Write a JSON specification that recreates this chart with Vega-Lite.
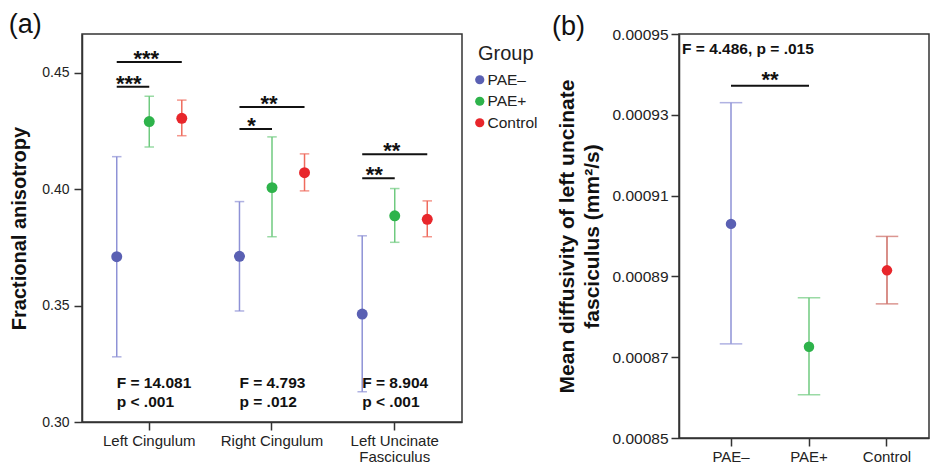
{
  "$schema": "https://vega.github.io/schema/vega-lite/v6.json",
  "background": "white",
  "padding": {"left": 8, "top": 10, "right": 0, "bottom": 0},
  "spacing": 2,
  "config": {
    "font": "Liberation Sans",
    "view": {"stroke": "#333", "strokeWidth": 1.5},
    "axis": {
      "grid": false, "domainColor": "#333", "domainWidth": 1.5, "tickColor": "#333", "tickWidth": 1.5,
      "tickSize": 8, "labelColor": "#222", "labelFont": "Liberation Sans", "titleFont": "Liberation Sans",
      "titleColor": "#111", "titleFontWeight": "bold"
    },
    "title": {"font": "Liberation Sans", "fontSize": 27, "fontWeight": "normal", "color": "#111", "anchor": "start", "frame": "bounds"}
  },
  "resolve": {"scale": {"color": "independent", "stroke": "independent"}, "legend": {"color": "independent"}},
  "datasets": {
    "fa": [
      {"region": "Left Cingulum", "group": "PAE–", "mean": 0.3710, "lo": 0.3280, "hi": 0.4140},
      {"region": "Left Cingulum", "group": "PAE+", "mean": 0.4291, "lo": 0.4182, "hi": 0.4400},
      {"region": "Left Cingulum", "group": "Control", "mean": 0.4305, "lo": 0.4230, "hi": 0.4383},
      {"region": "Right Cingulum", "group": "PAE–", "mean": 0.3712, "lo": 0.3477, "hi": 0.3947},
      {"region": "Right Cingulum", "group": "PAE+", "mean": 0.4007, "lo": 0.3796, "hi": 0.4225},
      {"region": "Right Cingulum", "group": "Control", "mean": 0.4071, "lo": 0.3993, "hi": 0.4152},
      {"region": "Left Uncinate Fasciculus", "group": "PAE–", "mean": 0.3464, "lo": 0.3130, "hi": 0.3800},
      {"region": "Left Uncinate Fasciculus", "group": "PAE+", "mean": 0.3886, "lo": 0.3772, "hi": 0.4003},
      {"region": "Left Uncinate Fasciculus", "group": "Control", "mean": 0.3871, "lo": 0.3796, "hi": 0.3950}
    ],
    "faSig": [
      {"region": "Left Cingulum", "bar": "LC1", "group": "PAE–", "level": 0.4440},
      {"region": "Left Cingulum", "bar": "LC1", "group": "PAE+", "level": 0.4440},
      {"region": "Left Cingulum", "bar": "LC2", "group": "PAE–", "level": 0.4547},
      {"region": "Left Cingulum", "bar": "LC2", "group": "Control", "level": 0.4547},
      {"region": "Right Cingulum", "bar": "RC1", "group": "PAE–", "level": 0.4259},
      {"region": "Right Cingulum", "bar": "RC1", "group": "PAE+", "level": 0.4259},
      {"region": "Right Cingulum", "bar": "RC2", "group": "PAE–", "level": 0.4353},
      {"region": "Right Cingulum", "bar": "RC2", "group": "Control", "level": 0.4353},
      {"region": "Left Uncinate Fasciculus", "bar": "LU1", "group": "PAE–", "level": 0.4047},
      {"region": "Left Uncinate Fasciculus", "bar": "LU1", "group": "PAE+", "level": 0.4047},
      {"region": "Left Uncinate Fasciculus", "bar": "LU2", "group": "PAE–", "level": 0.4150},
      {"region": "Left Uncinate Fasciculus", "bar": "LU2", "group": "Control", "level": 0.4150}
    ],
    "faStars": [
      {"region": "Left Cingulum", "group": "PAE–", "level": 0.4440, "stars": "***", "pos": "lower"},
      {"region": "Left Cingulum", "group": "PAE+", "level": 0.4547, "stars": "***", "pos": "upper"},
      {"region": "Right Cingulum", "group": "PAE–", "level": 0.4259, "stars": "*", "pos": "lower"},
      {"region": "Right Cingulum", "group": "PAE+", "level": 0.4353, "stars": "**", "pos": "upper"},
      {"region": "Left Uncinate Fasciculus", "group": "PAE–", "level": 0.4047, "stars": "**", "pos": "lower"},
      {"region": "Left Uncinate Fasciculus", "group": "PAE+", "level": 0.4150, "stars": "**", "pos": "upper"}
    ],
    "faStats": [
      {"region": "Left Cingulum", "group": "PAE–", "y": 0.3168, "text": ["F = 14.081", "p < .001"]},
      {"region": "Right Cingulum", "group": "PAE–", "y": 0.3168, "text": ["F = 4.793", "p = .012"]},
      {"region": "Left Uncinate Fasciculus", "group": "PAE–", "y": 0.3168, "text": ["F = 8.904", "p < .001"]}
    ],
    "md": [
      {"group": "PAE–", "mean": 0.0009030, "lo": 0.0008733, "hi": 0.0009330},
      {"group": "PAE+", "mean": 0.0008726, "lo": 0.0008607, "hi": 0.0008847},
      {"group": "Control", "mean": 0.0008915, "lo": 0.0008832, "hi": 0.0008999}
    ],
    "mdSig": [
      {"bar": "B1", "group": "PAE–", "level": 0.0009372},
      {"bar": "B1", "group": "PAE+", "level": 0.0009372}
    ],
    "mdStars": [
      {"group": "PAE–", "level": 0.0009372, "stars": "**"}
    ],
    "mdStats": [
      {"group": "PAE–", "y": 0.0009464, "text": "F = 4.486, p = .015"}
    ]
  },
  "hconcat": [
    {
      "title": {"text": "(a)", "offset": -5, "dx": -1},
      "width": 380,
      "height": 388,
      "encoding": {
        "x": {
          "field": "region", "type": "nominal",
          "sort": ["Left Cingulum", "Right Cingulum", "Left Uncinate Fasciculus"],
          "scale": {"type": "band", "paddingInner": 0.47, "paddingOuter": 0.283},
          "axis": {
            "title": null, "labelAngle": 0, "labelFontSize": 15, "labelPadding": 3, "labelLineHeight": 16,
            "labelExpr": "datum.label == 'Left Uncinate Fasciculus' ? ['Left Uncinate', 'Fasciculus'] : datum.label"
          }
        },
        "xOffset": {
          "field": "group", "type": "nominal", "sort": ["PAE–", "PAE+", "Control"],
          "scale": {"type": "point", "padding": 0}
        }
      },
      "layer": [
        {
          "data": {"name": "fa"},
          "mark": {"type": "point", "filled": true, "size": 0, "opacity": 0},
          "encoding": {
            "y": {
              "field": "mean", "type": "quantitative",
              "scale": {"domain": [0.3, 0.4667], "nice": false, "zero": false},
              "axis": {
                "title": "Fractional anisotropy", "values": [0.3, 0.35, 0.4, 0.45], "format": ".2f",
                "titleFontSize": 20, "labelFontSize": 14, "labelPadding": 5, "titlePadding": 12
              }
            },
            "color": {
              "field": "group", "type": "nominal",
              "scale": {"domain": ["PAE–", "PAE+", "Control"], "range": ["#5a60b3", "#2eb34b", "#e8262b"]},
              "legend": {
                "title": "Group", "titleFontSize": 20, "titleFontWeight": "normal", "titleColor": "#222",
                "labelFontSize": 15.5, "labelColor": "#222", "symbolType": "circle", "symbolSize": 85,
                "symbolOpacity": 1, "symbolOffset": -6, "labelOffset": 0, "rowPadding": 4.5, "titlePadding": 8,
                "offset": 6, "padding": 10
              }
            }
          }
        },
        {
          "data": {"name": "fa"},
          "mark": {"type": "rule", "strokeWidth": 1.5},
          "encoding": {
            "y": {"field": "lo", "type": "quantitative"},
            "y2": {"field": "hi"},
            "stroke": {
              "field": "group", "type": "nominal", "sort": ["PAE–", "PAE+", "Control"],
              "scale": {"range": ["#8e92d6", "#6fca7f", "#ef6b5d"]},
              "legend": null
            }
          }
        },
        {
          "data": {"name": "fa"},
          "mark": {"type": "tick", "size": 8, "thickness": 0.01, "filled": false, "strokeWidth": 1.5},
          "encoding": {
            "y": {"field": "lo", "type": "quantitative"},
            "stroke": {"field": "group", "type": "nominal", "sort": ["PAE–", "PAE+", "Control"], "legend": null}
          }
        },
        {
          "data": {"name": "fa"},
          "mark": {"type": "tick", "size": 8, "thickness": 0.01, "filled": false, "strokeWidth": 1.5},
          "encoding": {
            "y": {"field": "hi", "type": "quantitative"},
            "stroke": {"field": "group", "type": "nominal", "sort": ["PAE–", "PAE+", "Control"], "legend": null}
          }
        },
        {
          "data": {"name": "fa"},
          "mark": {"type": "point", "filled": true, "size": 120, "opacity": 1, "shape": "circle"},
          "encoding": {
            "y": {"field": "mean", "type": "quantitative"},
            "color": {"field": "group", "type": "nominal"}
          }
        },
        {
          "data": {"name": "faSig"},
          "mark": {"type": "line", "color": "#111", "strokeWidth": 2},
          "encoding": {
            "y": {"field": "level", "type": "quantitative"},
            "detail": {"field": "bar", "type": "nominal"}
          }
        },
        {
          "data": {"name": "faStars"},
          "transform": [{"filter": "datum.pos == 'lower'"}],
          "mark": {"type": "text", "fontSize": 22, "fontWeight": "bold", "align": "center", "baseline": "alphabetic", "dx": 12, "dy": 4, "color": "#111"},
          "encoding": {
            "y": {"field": "level", "type": "quantitative"},
            "text": {"field": "stars"}
          }
        },
        {
          "data": {"name": "faStars"},
          "transform": [{"filter": "datum.pos == 'upper'"}],
          "mark": {"type": "text", "fontSize": 22, "fontWeight": "bold", "align": "center", "baseline": "alphabetic", "dx": -3, "dy": 4, "color": "#111"},
          "encoding": {
            "y": {"field": "level", "type": "quantitative"},
            "text": {"field": "stars"}
          }
        },
        {
          "data": {"name": "faStats"},
          "mark": {"type": "text", "fontSize": 15.5, "fontWeight": "bold", "align": "left", "baseline": "middle", "lineHeight": 19, "color": "#111"},
          "encoding": {
            "y": {"field": "y", "type": "quantitative"},
            "text": {"field": "text"}
          }
        }
      ]
    },
    {
      "title": {"text": "(b)", "offset": -14, "dx": -5},
      "width": 250,
      "height": 404,
      "encoding": {
        "x": {
          "field": "group", "type": "nominal", "sort": ["PAE–", "PAE+", "Control"],
          "scale": {"type": "band", "paddingInner": 0, "paddingOuter": 0.1026, "align": 0.8125},
          "axis": {"title": null, "labelAngle": 0, "labelFontSize": 15, "labelPadding": 3}
        }
      },
      "layer": [
        {
          "data": {"name": "md"},
          "mark": {"type": "rule", "strokeWidth": 1.5},
          "encoding": {
            "y": {
              "field": "lo", "type": "quantitative",
              "scale": {"domain": [0.00085, 0.00095], "nice": false, "zero": false},
              "axis": {
                "title": ["Mean diffusivity of left uncinate", "fasciculus (mm²/s)"],
                "values": [0.00085, 0.00087, 0.00089, 0.00091, 0.00093, 0.00095], "format": ".5f",
                "titleFontSize": 21, "titleLineHeight": 25, "labelFontSize": 15.5, "labelPadding": 3, "titlePadding": 9
              }
            },
            "y2": {"field": "hi"},
            "stroke": {
              "field": "group", "type": "nominal",
              "scale": {"domain": ["PAE–", "PAE+", "Control"], "range": ["#8e92d6", "#6fca7f", "#cc6a62"]},
              "legend": null
            }
          }
        },
        {
          "data": {"name": "md"},
          "mark": {"type": "tick", "size": 21, "thickness": 0.01, "filled": false, "strokeWidth": 1.5},
          "encoding": {
            "y": {"field": "lo", "type": "quantitative"},
            "stroke": {"field": "group", "type": "nominal", "legend": null}
          }
        },
        {
          "data": {"name": "md"},
          "mark": {"type": "tick", "size": 21, "thickness": 0.01, "filled": false, "strokeWidth": 1.5},
          "encoding": {
            "y": {"field": "hi", "type": "quantitative"},
            "stroke": {"field": "group", "type": "nominal", "legend": null}
          }
        },
        {
          "data": {"name": "md"},
          "mark": {"type": "point", "filled": true, "size": 110, "opacity": 1, "shape": "circle"},
          "encoding": {
            "y": {"field": "mean", "type": "quantitative"},
            "color": {
              "field": "group", "type": "nominal",
              "scale": {"domain": ["PAE–", "PAE+", "Control"], "range": ["#5a60b3", "#2eb34b", "#e8262b"]},
              "legend": null
            }
          }
        },
        {
          "data": {"name": "mdSig"},
          "mark": {"type": "line", "color": "#111", "strokeWidth": 2},
          "encoding": {
            "y": {"field": "level", "type": "quantitative"},
            "detail": {"field": "bar", "type": "nominal"}
          }
        },
        {
          "data": {"name": "mdStars"},
          "mark": {"type": "text", "fontSize": 22, "fontWeight": "bold", "align": "center", "baseline": "alphabetic", "dy": 1.5, "color": "#111"},
          "encoding": {
            "x": {"field": "group", "type": "nominal", "bandPosition": 1},
            "y": {"field": "level", "type": "quantitative"},
            "text": {"field": "stars"}
          }
        },
        {
          "data": {"name": "mdStats"},
          "mark": {"type": "text", "fontSize": 15.5, "fontWeight": "bold", "align": "left", "baseline": "middle", "dx": -10, "color": "#111"},
          "encoding": {
            "x": {"field": "group", "type": "nominal", "bandPosition": 0},
            "y": {"field": "y", "type": "quantitative"},
            "text": {"field": "text"}
          }
        }
      ]
    }
  ]
}
